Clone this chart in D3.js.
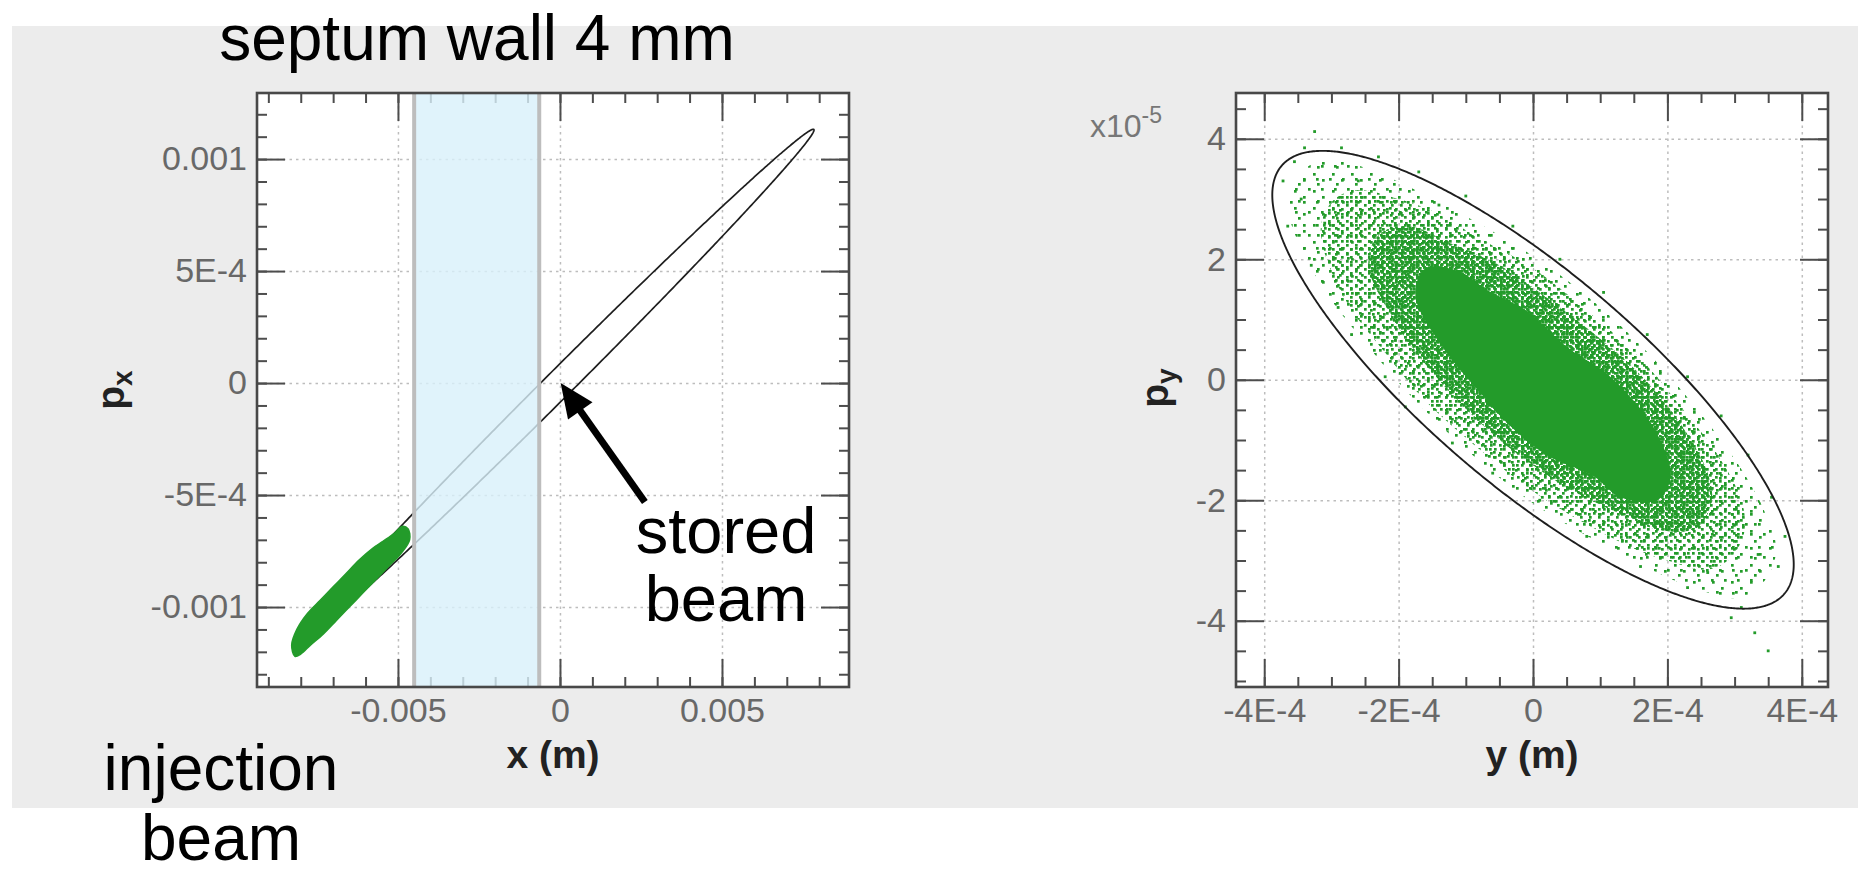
<!DOCTYPE html>
<html>
<head>
<meta charset="utf-8">
<script src="https://cdn.jsdelivr.net/npm/d3@7"></script>
<style>
  html, body { margin: 0; padding: 0; background: #fff; }
  svg { display: block; font-family: "Liberation Sans", Arial, Helvetica, sans-serif; }
</style>
</head>
<body>
<div id="chart"></div>
<script>
// ---------- values ----------
// left panel : horizontal phase space (x, px)
var xTicksL = [-0.005, 0, 0.005];
var xLabelsL = ["-0.005", "0", "0.005"];
var pxTicksL = [-0.001, -0.0005, 0, 0.0005, 0.001];
var pxLabelsL = ["-0.001", "-5E-4", "0", "5E-4", "0.001"];
var septumWall = [-0.0045, -0.00064];              // septum edges (m)
var storedEllipse = [0.00784, 0.001133, 0.0766];   // x amplitude, px amplitude, phase lag
var injectionBeam = [
  [-0.00812, -0.00110], [-0.0078, -0.00103], [-0.0074, -0.00097], [-0.0070, -0.00091],
  [-0.0066, -0.00085], [-0.0062, -0.00079], [-0.0058, -0.00074], [-0.0054, -0.00070],
  [-0.0051, -0.00067], [-0.00488, -0.00064], [-0.00469, -0.00065], [-0.00464, -0.00070],
  [-0.0049, -0.00076], [-0.0053, -0.00082], [-0.0057, -0.00088], [-0.0061, -0.00094],
  [-0.0065, -0.00100], [-0.0069, -0.00106], [-0.0073, -0.00112], [-0.0077, -0.00117],
  [-0.0080, -0.00121], [-0.00818, -0.00122], [-0.00828, -0.00117]
];
var arrowTail = [0.00262, -0.000531];
var arrowTip = [0.00002, 0.0];

// right panel : vertical phase space (y, py) ; py in units of 1e-5
var yTicksR = [-4e-4, -2e-4, 0, 2e-4, 4e-4];
var yLabelsR = ["-4E-4", "-2E-4", "0", "2E-4", "4E-4"];
var pyTicksR = [-4, -2, 0, 2, 4];
var pyLabelsR = ["-4", "-2", "0", "2", "4"];
var acceptance = [3.88e-4, 3.8, -2.51];            // y amplitude, py amplitude, phase lag
var haloEdge = [
  [3.62e-4, -2.85], [3.40e-4, -3.40], [3.05e-4, -3.62], [2.50e-4, -3.50], [1.75e-4, -3.15],
  [0.9e-4, -2.65], [0, -2.05], [-0.9e-4, -1.25], [-1.75e-4, -0.35], [-2.45e-4, 0.55],
  [-3.05e-4, 1.40], [-3.50e-4, 2.30], [-3.65e-4, 2.95], [-3.45e-4, 3.45], [-3.05e-4, 3.65],
  [-2.45e-4, 3.50], [-1.75e-4, 3.15], [-0.9e-4, 2.65], [0, 2.05], [0.9e-4, 1.30],
  [1.75e-4, 0.40], [2.45e-4, -0.50], [3.05e-4, -1.40], [3.45e-4, -2.20]
];
var midEdge = [
  [3.15e-4, -2.50], [2.95e-4, -2.95], [2.60e-4, -3.15], [2.00e-4, -3.00], [1.50e-4, -2.80],
  [0.80e-4, -2.40], [0, -1.85], [-0.80e-4, -1.15], [-1.60e-4, -0.35], [-2.20e-4, 0.45],
  [-2.75e-4, 1.25], [-3.10e-4, 2.10], [-3.15e-4, 2.60], [-2.95e-4, 3.00], [-2.60e-4, 3.15],
  [-2.00e-4, 3.00], [-1.50e-4, 2.80], [-0.80e-4, 2.35], [0, 1.85], [0.80e-4, 1.15],
  [1.60e-4, 0.35], [2.20e-4, -0.45], [2.75e-4, -1.25], [3.10e-4, -2.00]
];
var denseEdge = [
  [2.66e-4, -2.00], [2.45e-4, -2.45], [1.90e-4, -2.50], [1.35e-4, -2.25], [0.60e-4, -1.85],
  [0.10e-4, -1.50], [-0.60e-4, -0.90], [-1.20e-4, -0.25], [-1.70e-4, 0.40], [-2.10e-4, 1.05],
  [-2.45e-4, 1.90], [-2.30e-4, 2.40], [-1.85e-4, 2.55], [-1.20e-4, 2.25], [-0.50e-4, 1.90],
  [0.10e-4, 1.45], [0.75e-4, 0.90], [1.40e-4, 0.30], [1.90e-4, -0.30], [2.35e-4, -1.00],
  [2.60e-4, -1.55]
];
var coreEdge = [
  [2.05e-4, -1.60], [1.85e-4, -2.00], [1.30e-4, -1.95], [0.90e-4, -1.60], [0.20e-4, -1.25],
  [-0.40e-4, -0.70], [-0.80e-4, -0.20], [-1.35e-4, 0.55], [-1.75e-4, 1.40], [-1.60e-4, 1.85],
  [-1.10e-4, 1.80], [-0.70e-4, 1.50], [-0.10e-4, 1.15], [0.50e-4, 0.55], [1.10e-4, 0.10],
  [1.50e-4, -0.35], [1.85e-4, -0.90]
];
var strayParticles = [
  [-3.25e-4, 4.12], [-3.55e-4, 3.62], [-3.72e-4, 3.30], [-3.40e-4, 3.85], [-2.85e-4, 3.85],
  [-2.60e-4, 3.30], [-3.65e-4, 2.55], [-3.30e-4, 1.90], [-2.90e-4, 1.20], [-2.70e-4, 0.75],
  [-2.20e-4, 0.05], [-1.90e-4, -0.45], [-1.20e-4, -1.05], [-0.60e-4, -1.55], [0.10e-4, -2.00],
  [0.80e-4, -2.60], [1.60e-4, -3.10], [2.30e-4, -3.45], [2.95e-4, -3.95], [3.30e-4, -4.20],
  [3.50e-4, -4.50], [3.10e-4, -3.78], [3.65e-4, -3.10], [3.75e-4, -2.60], [3.55e-4, -1.95],
  [3.20e-4, -1.25], [2.80e-4, -0.60], [2.30e-4, 0.05], [1.70e-4, 0.75], [1.05e-4, 1.45],
  [0.40e-4, 2.00], [-0.30e-4, 2.55], [-1.00e-4, 3.05], [-1.70e-4, 3.45], [-2.30e-4, 3.70],
  [-1.40e-4, 2.90], [3.35e-4, -2.90], [2.60e-4, -3.20], [-3.10e-4, 2.60], [-3.45e-4, 3.00]
];

// ---------- page ----------
var W = 1858, H = 874;
var green = "#239b2a";
var font = "'Liberation Sans', Arial, Helvetica, sans-serif";

var svg = d3.select("#chart").append("svg")
    .attr("width", W)
    .attr("height", H);

svg.append("rect")
    .attr("x", 12).attr("y", 26)
    .attr("width", W - 12).attr("height", 782)
    .attr("fill", "#ececec");

// speckle textures for the particle cloud
var defs = svg.append("defs");
function dotPattern(id, w, h, dots) {
  var p = defs.append("pattern")
      .attr("id", id)
      .attr("patternUnits", "userSpaceOnUse")
      .attr("width", w).attr("height", h);
  dots.forEach(function(d) {
    p.append("rect").attr("x", d[0]).attr("y", d[1])
      .attr("width", 2.7).attr("height", 2.7).attr("fill", green);
  });
}
dotPattern("h1", 19, 17, [[2, 3], [11, 9], [6, 13]]);
dotPattern("h2", 13, 23, [[8, 4], [3, 17]]);
dotPattern("m1", 9, 8, [[0, 0], [5, 4]]);
dotPattern("m2", 11, 13, [[4, 6], [8, 1]]);
dotPattern("d1", 6, 6, [[0, 0], [3, 3]]);
dotPattern("d2", 7, 5, [[2, 1]]);
dotPattern("d3", 5, 7, [[1, 4]]);

// scales
var xL = d3.scaleLinear().domain([-0.00935, 0.00892]).range([257, 849]);
var yL = d3.scaleLinear().domain([-0.001357, 0.001295]).range([687, 93]);
var xR = d3.scaleLinear().domain([-4.42e-4, 4.39e-4]).range([1236, 1828]);
var yR = d3.scaleLinear().domain([-5.1, 4.76]).range([687, 93]);

function plotArea(x, y) {
  var x0 = x.range()[0], x1 = x.range()[1], y0 = y.range()[1], y1 = y.range()[0];
  svg.append("rect").attr("x", x0).attr("y", y0)
    .attr("width", x1 - x0).attr("height", y1 - y0).attr("fill", "#fff");
}

function grid(x, y, xt, yt) {
  var x0 = x.range()[0], x1 = x.range()[1], y0 = y.range()[1], y1 = y.range()[0];
  var gx = svg.append("g").attr("transform", "translate(0," + y1 + ")")
    .call(d3.axisBottom(x).tickValues(xt).tickSize(-(y1 - y0)).tickFormat(""));
  var gy = svg.append("g").attr("transform", "translate(" + x0 + ",0)")
    .call(d3.axisLeft(y).tickValues(yt).tickSize(-(x1 - x0)).tickFormat(""));
  [gx, gy].forEach(function(g) {
    g.select(".domain").remove();
    g.selectAll("line").attr("stroke", "#bdbdbd").attr("stroke-width", 1.5)
      .attr("stroke-dasharray", "2.5,4");
  });
}

function tickSet(axisFn, scale, values, size, pos, labels, pad) {
  var a = axisFn(scale).tickValues(values).tickSizeInner(size).tickSizeOuter(0)
    .tickPadding(pad || 0)
    .tickFormat(labels ? function(d, i) { return labels[i]; } : "");
  var g = svg.append("g").attr("transform", pos).call(a);
  g.select(".domain").remove();
  g.selectAll("line").attr("stroke", "#4d4d4d").attr("stroke-width", 2);
  g.selectAll("text").attr("fill", "#686868").attr("font-size", 34).attr("font-family", font);
  return g;
}

function axes(x, y, xt, xm, xlab, yt, ym, ylab) {
  var x0 = x.range()[0], x1 = x.range()[1], y0 = y.range()[1], y1 = y.range()[0];
  tickSet(d3.axisBottom, x, xm, -10, "translate(0," + y1 + ")");
  tickSet(d3.axisTop, x, xm, -10, "translate(0," + y0 + ")");
  tickSet(d3.axisLeft, y, ym, -10, "translate(" + x0 + ",0)");
  tickSet(d3.axisRight, y, ym, -10, "translate(" + x1 + ",0)");
  tickSet(d3.axisBottom, x, xt, -28, "translate(0," + y1 + ")", xlab, 11);
  tickSet(d3.axisTop, x, xt, -28, "translate(0," + y0 + ")");
  tickSet(d3.axisLeft, y, yt, -28, "translate(" + x0 + ",0)", ylab, 10);
  tickSet(d3.axisRight, y, yt, -28, "translate(" + x1 + ",0)");
}

function frame(x, y) {
  var x0 = x.range()[0], x1 = x.range()[1], y0 = y.range()[1], y1 = y.range()[0];
  svg.append("rect").attr("x", x0).attr("y", y0)
    .attr("width", x1 - x0).attr("height", y1 - y0)
    .attr("fill", "none").attr("stroke", "#484848").attr("stroke-width", 2.6);
}

function ellipsePath(p, x, y) {
  var pts = d3.range(0, 721).map(function(k) {
    var t = k * Math.PI / 360;
    return [p[0] * Math.cos(t), p[1] * Math.cos(t - p[2])];
  });
  return d3.line().x(function(d) { return x(d[0]); }).y(function(d) { return y(d[1]); })(pts);
}

var blob = function(x, y) {
  return d3.line().curve(d3.curveCatmullRomClosed)
    .x(function(d) { return x(d[0]); }).y(function(d) { return y(d[1]); });
};

// ---------- left panel ----------
plotArea(xL, yL);
grid(xL, yL, xTicksL, pxTicksL);

svg.append("path")
    .attr("d", ellipsePath(storedEllipse, xL, yL))
    .attr("fill", "none").attr("stroke", "#1e1e1e").attr("stroke-width", 1.7);

svg.append("path")
    .attr("d", blob(xL, yL)(injectionBeam))
    .attr("fill", green).attr("stroke", green).attr("stroke-width", 1.5);

axes(xL, yL, xTicksL, d3.range(-9, 9).map(function(i) { return i / 1000; }), xLabelsL,
     pxTicksL, d3.range(-13, 13).map(function(i) { return i / 10000; }), pxLabelsL);

svg.append("rect")
    .attr("x", xL(septumWall[0])).attr("y", yL.range()[1])
    .attr("width", xL(septumWall[1]) - xL(septumWall[0]))
    .attr("height", yL.range()[0] - yL.range()[1])
    .attr("fill", "#d8f0fa").attr("fill-opacity", 0.8);
svg.selectAll(".septum").data(septumWall).enter().append("line")
    .attr("class", "septum")
    .attr("x1", function(d) { return xL(d); }).attr("x2", function(d) { return xL(d); })
    .attr("y1", yL.range()[1]).attr("y2", yL.range()[0])
    .attr("stroke", "#bdbdbd").attr("stroke-width", 4);

frame(xL, yL);

// ---------- right panel ----------
plotArea(xR, yR);
grid(xR, yR, yTicksR, pyTicksR);

var rBlob = blob(xR, yR);
[[haloEdge, ["h1", "h2"]], [midEdge, ["m1", "m2"]], [denseEdge, ["d1", "d2", "d3"]]]
  .forEach(function(level) {
    level[1].forEach(function(id) {
      svg.append("path").attr("d", rBlob(level[0])).attr("fill", "url(#" + id + ")");
    });
  });
svg.append("path").attr("d", rBlob(coreEdge)).attr("fill", green);

svg.selectAll(".stray").data(strayParticles).enter().append("rect")
    .attr("class", "stray")
    .attr("x", function(d) { return xR(d[0]) - 1.4; })
    .attr("y", function(d) { return yR(d[1]) - 1.4; })
    .attr("width", 2.8).attr("height", 2.8)
    .attr("fill", green);

svg.append("path")
    .attr("d", ellipsePath(acceptance, xR, yR))
    .attr("fill", "none").attr("stroke", "#1e1e1e").attr("stroke-width", 1.9);

axes(xR, yR, yTicksR, d3.range(-8, 9).map(function(i) { return i * 5e-5; }), yLabelsR,
     pyTicksR, d3.range(-10, 10).map(function(i) { return i * 0.5; }), pyLabelsR);
frame(xR, yR);

// ---------- axis titles ----------
function bold(txt, x, y) {
  return svg.append("text").attr("x", x).attr("y", y)
    .attr("text-anchor", "middle").attr("font-family", font)
    .attr("font-weight", "bold").attr("font-size", 39).attr("fill", "#222").text(txt);
}
bold("x (m)", (xL.range()[0] + xL.range()[1]) / 2, 768);
bold("y (m)", (xR.range()[0] + xR.range()[1]) / 2, 768);

function rotated(main, sub, x, y) {
  var t = svg.append("text")
    .attr("transform", "translate(" + x + "," + y + ") rotate(-90)")
    .attr("text-anchor", "middle").attr("font-family", font)
    .attr("font-weight", "bold").attr("font-size", 39).attr("fill", "#222");
  t.append("tspan").text(main);
  t.append("tspan").attr("font-size", 28).attr("dy", 8).text(sub);
}
rotated("p", "x", 124, 390);
rotated("p", "y", 1168, 388);

var mult = svg.append("text").attr("x", 1090).attr("y", 137)
    .attr("font-family", font).attr("font-size", 32).attr("fill", "#777");
mult.append("tspan").text("x10");
mult.append("tspan").attr("font-size", 23).attr("dy", -14).text("-5");

// ---------- annotations ----------
function note(lines, x, y0, dy, size) {
  lines.forEach(function(s, i) {
    svg.append("text").attr("x", x).attr("y", y0 + i * dy)
      .attr("text-anchor", "middle").attr("font-family", font)
      .attr("font-size", size).attr("fill", "#000").text(s);
  });
}
note(["septum wall 4 mm"], 477, 60, 0, 64);
note(["stored", "beam"], 726, 553, 68, 65);
note(["injection", "beam"], 221, 790, 70, 64);

// arrow pointing at the stored beam
var tx = xL(arrowTail[0]), ty = yL(arrowTail[1]);
var hx = xL(arrowTip[0]), hy = yL(arrowTip[1]);
var len = Math.hypot(hx - tx, hy - ty), ux = (hx - tx) / len, uy = (hy - ty) / len;
var headL = 34, headW = 15;
var bx = hx - ux * headL, by = hy - uy * headL;
svg.append("line")
    .attr("x1", tx).attr("y1", ty).attr("x2", bx + ux * 4).attr("y2", by + uy * 4)
    .attr("stroke", "#000").attr("stroke-width", 7);
svg.append("path")
    .attr("d", "M" + hx + "," + hy +
               "L" + (bx - uy * headW) + "," + (by + ux * headW) +
               "L" + (bx + uy * headW) + "," + (by - ux * headW) + "Z")
    .attr("fill", "#000");
</script>
</body>
</html>
